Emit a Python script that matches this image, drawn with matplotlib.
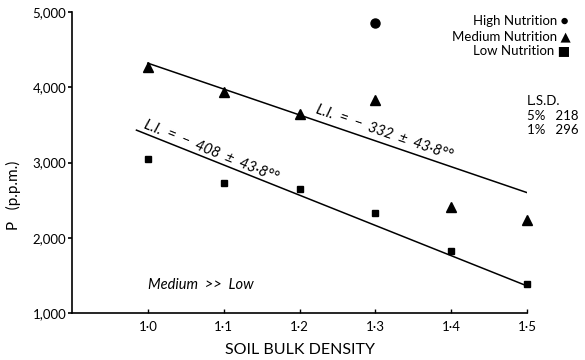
import matplotlib
matplotlib.use("Agg")
import matplotlib.pyplot as plt

plt.rcParams['font.family'] = ['Lato', 'DejaVu Sans']

density = [1.0, 1.1, 1.2, 1.3, 1.4, 1.5]
medium = [4270, 3940, 3650, 3830, 2410, 2230]
low = [3050, 2730, 2650, 2330, 1830, 1390]
high_x = [1.3]
high = [4860]
medium_fit_x = [1.0, 1.5]
medium_fit_y = [4320, 2600]
low_fit_x = [0.985, 1.5]
low_fit_y = [3430, 1360]
x_ticks = [1.0, 1.1, 1.2, 1.3, 1.4, 1.5]
x_labels = ["1·0", "1·1", "1·2", "1·3", "1·4", "1·5"]
y_ticks = [1000, 2000, 3000, 4000, 5000]
y_labels = ["1,000", "2,000", "3,000", "4,000", "5,000"]

fig = plt.figure(figsize=(5.85, 3.6), dpi=100)
ax = fig.add_axes([72/585, 1-313/360, (527-72)/585, (313-12)/360])
ax.set_xlim(0.9, 1.5)
ax.set_ylim(1000, 5000)

ax.plot(medium_fit_x, medium_fit_y, color='black', lw=1.1)
ax.plot(low_fit_x, low_fit_y, color='black', lw=1.1)
ax.plot(density, medium, '^', color='black', ms=7.5, clip_on=False)
ax.plot(density, low, 's', color='black', ms=5, clip_on=False)
ax.plot(high_x, high, 'o', color='black', ms=6.5, clip_on=False)

for s in ['top', 'right']:
    ax.spines[s].set_visible(False)
for s in ['left', 'bottom']:
    ax.spines[s].set_linewidth(1.2)

ax.set_xticks(x_ticks)
ax.set_xticklabels(x_labels, fontsize=9.5)
ax.set_yticks(y_ticks)
ax.set_yticklabels(y_labels, fontsize=9.5)
ax.tick_params(axis='y', direction='out', length=3, width=1.2, pad=1)
ax.tick_params(axis='x', direction='in', length=3, width=1.0, pad=6)

fig.text(13/585, 1-195/360, "P   (p.p.m.)", rotation=90, ha='center', va='center', fontsize=11)
fig.text(300/585, 1-350/360, "SOIL BULK DENSITY", ha='center', va='center', fontsize=11.5)

ax.text(1.221, 3660, "L.I.  =  −  332  ±  43·8°°", rotation=-19, rotation_mode='anchor',
        ha='left', va='baseline', fontsize=10.5, style='italic')
ax.text(0.993, 3460, "L.I.  =  −  408  ±  43·8°°", rotation=-22, rotation_mode='anchor',
        ha='left', va='baseline', fontsize=10.5, style='italic')
ax.text(1.0, 1370, "Medium  >>  Low", ha='left', va='center', fontsize=10.5, style='italic')

fig.text(569/585, 1-21/360, "High Nutrition ●", ha='right', va='center', fontsize=9.5)
fig.text(571/585, 1-36/360, "Medium Nutrition ▲", ha='right', va='center', fontsize=9.5)
fig.text(570/585, 1-50/360, "Low Nutrition ■", ha='right', va='center', fontsize=9.5)

fig.text(527/585, 1-101/360, "L.S.D.", ha='left', va='center', fontsize=9.5)
fig.text(527/585, 1-116/360, "5%   218", ha='left', va='center', fontsize=9.5)
fig.text(527/585, 1-130/360, "1%   296", ha='left', va='center', fontsize=9.5)

fig.savefig("out.png", dpi=100)
